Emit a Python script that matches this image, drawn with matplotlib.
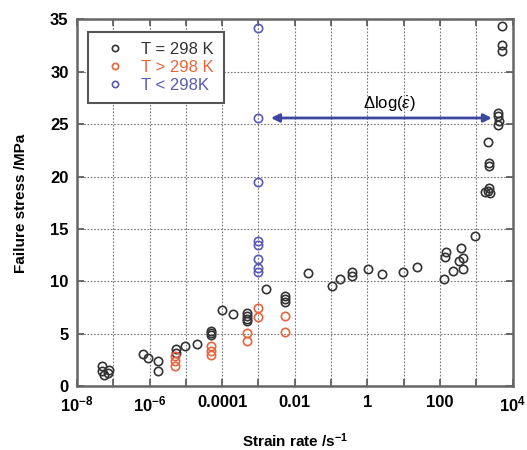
import numpy as np
import matplotlib
matplotlib.use('Agg')
import matplotlib.pyplot as plt

plt.rcParams['font.family'] = ['Liberation Sans', 'DejaVu Sans']
plt.rcParams['mathtext.fontset'] = 'custom'
plt.rcParams['mathtext.rm'] = 'Liberation Sans'
plt.rcParams['mathtext.it'] = 'Liberation Sans:italic'
plt.rcParams['mathtext.bf'] = 'Liberation Sans:bold'

# T = 298 K
black_x = [5e-8, 5e-8, 5.5e-8, 7.5e-8, 7e-8,
           6.7e-7, 9e-7, 1.7e-6, 1.7e-6,
           5.2e-6, 5.2e-6, 9.6e-6, 2e-5,
           5e-5, 5e-5, 5e-5,
           1e-4, 2e-4,
           4.9e-4, 4.9e-4, 4.9e-4, 4.9e-4,
           1.6e-3, 5.4e-3, 5.4e-3, 5.4e-3,
           0.023, 0.105, 0.175, 0.38, 0.38, 1.05, 2.5, 9.3, 23,
           130, 135, 150, 235, 340, 380, 420, 435, 910,
           2100, 2300, 2400, 1750, 2300, 2300, 2150,
           4000, 4000, 4100, 4000,
           5000, 5000, 5000]
black_y = [1.9, 1.5, 1.1, 1.6, 1.3,
           3.1, 2.7, 2.4, 1.5,
           3.6, 3.2, 3.8, 4.0,
           5.25, 5.05, 4.9,
           7.25, 6.9,
           7.0, 6.7, 6.4, 6.2,
           9.3, 8.6, 8.3, 8.0,
           10.8, 9.6, 10.2, 10.9, 10.5, 11.2, 10.7, 10.9, 11.4,
           10.2, 12.3, 12.85, 11.0, 12.0, 13.2, 12.2, 11.2, 14.3,
           18.6, 18.9, 18.4, 18.5, 21.3, 21.0, 23.3,
           26.1, 25.8, 25.3, 24.9,
           32.6, 32.0, 34.4]

# T > 298 K
red_x = [5e-6, 5e-6, 5e-6, 5e-5, 5e-5, 5e-5, 4.9e-4, 4.9e-4, 1e-3, 1e-3, 5.4e-3, 5.4e-3]
red_y = [2.85, 2.4, 1.95, 3.8, 3.4, 3.0, 5.1, 4.3, 7.5, 6.6, 6.7, 5.15]

# T < 298 K
blue_x = [1e-3] * 8
blue_y = [34.2, 25.6, 19.5, 13.9, 13.5, 12.1, 11.3, 10.9]

xticks = [10.0 ** k for k in range(-8, 5)]
xticklabels = [r'$\mathbf{10^{-8}}$', '', r'$\mathbf{10^{-6}}$', '', '0.0001', '', '0.01', '', '1', '', '100', '', r'$\mathbf{10^{4}}$']

c_black = '#333333'
c_red = '#e8643c'
c_blue = '#5a5ab4'

fig = plt.figure(figsize=(5.27, 4.5), dpi=100)
ax = fig.add_axes([0.146, 0.1416, 0.8267, 0.8151])

ms = 6
ax.plot(black_x, black_y, 'o', mfc='none', mec=c_black, ms=ms, mew=1.2, label='T = 298 K')
ax.plot(red_x, red_y, 'o', mfc='none', mec=c_red, ms=ms, mew=1.2, label='T > 298 K')
ax.plot(blue_x, blue_y, 'o', mfc='none', mec=c_blue, ms=ms, mew=1.2, label='T < 298K')

ax.set_xscale('log')
ax.set_xlim(1e-8, 1e4)
ax.set_ylim(0, 35)
ax.set_xticks(xticks)
ax.set_xticklabels(xticklabels)
ax.xaxis.set_minor_locator(matplotlib.ticker.NullLocator())
ax.set_yticks(np.arange(0, 36, 5))
for lab in ax.get_xticklabels() + ax.get_yticklabels():
    lab.set_fontweight('bold')

ax.grid(True, color='#777777', linestyle=(0, (1.5, 1.5)), linewidth=0.8)
ax.tick_params(direction='in', top=True, right=True, length=5, width=1.2,
               color='#555555', labelsize=12, pad=6)
for s in ax.spines.values():
    s.set_color('#666666')
    s.set_linewidth(1.8)

ax.set_xlabel(r'Strain rate /s$^{\mathbf{-1}}$', fontsize=11, fontweight='bold', labelpad=12)
ax.set_ylabel('Failure stress /MPa', fontsize=11, fontweight='bold', labelpad=16)

ax.annotate('', xy=(2700, 25.6), xytext=(2.2e-3, 25.6),
            arrowprops=dict(arrowstyle='<|-|>', color='#3c48a0', lw=2,
                            mutation_scale=12, shrinkA=0, shrinkB=0))
ax.text(4, 26.9, r'$\Delta$log($\dot{\varepsilon}$)', ha='center', va='center', fontsize=12)

leg = ax.legend(loc='upper left', bbox_to_anchor=(0.025, 0.967), borderaxespad=0,
                fancybox=False, framealpha=1, edgecolor='#555555', fontsize=12,
                handletextpad=0.6, markerscale=0.75, borderpad=0.6, labelspacing=0.2)
leg.get_frame().set_linewidth(1.5)
for t, c in zip(leg.get_texts(), [c_black, c_red, c_blue]):
    t.set_color(c)

fig.savefig('out.png', dpi=100)
